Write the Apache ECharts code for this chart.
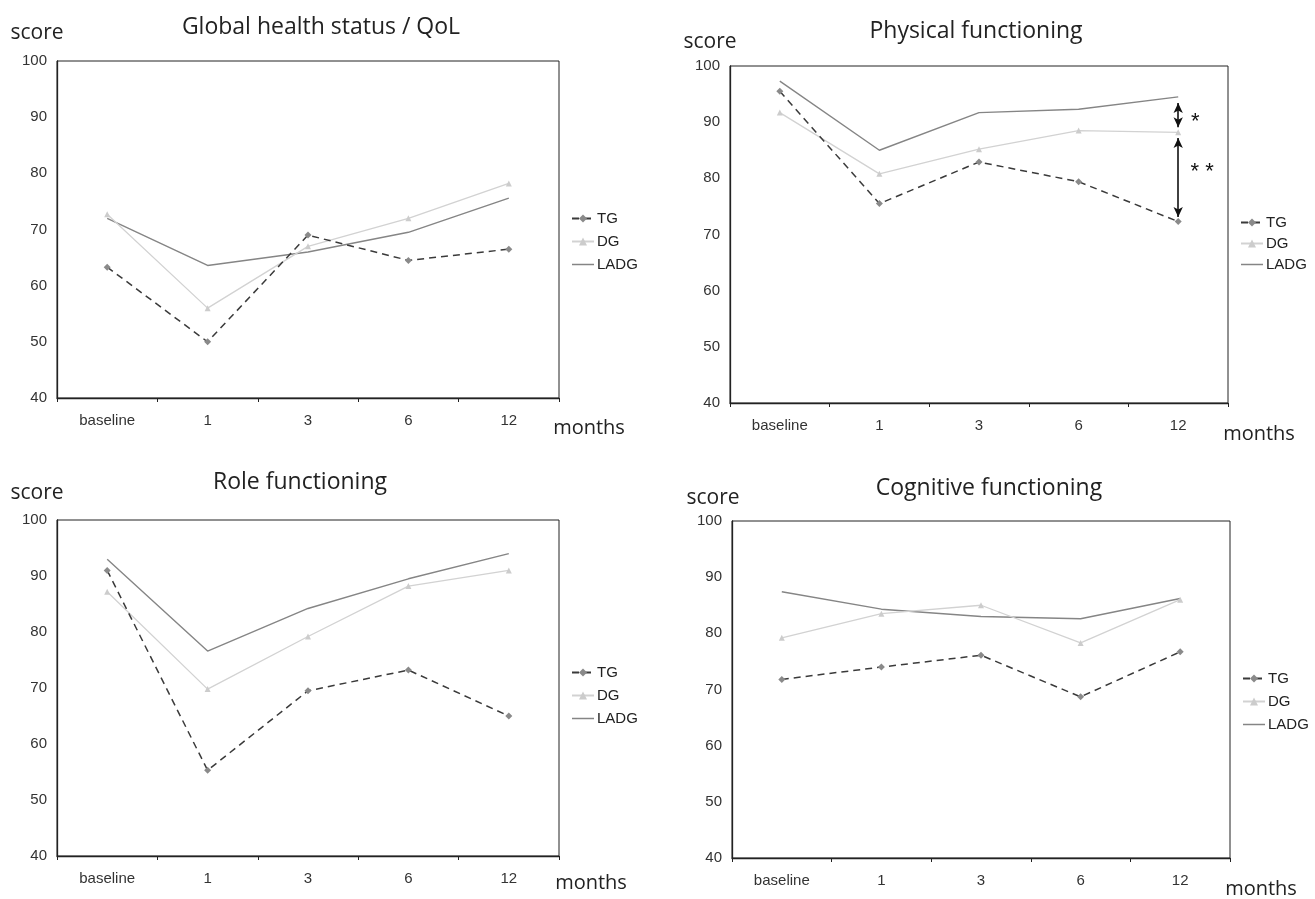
<!DOCTYPE html>
<html>
<head>
<meta charset="utf-8">
<script src="https://cdn.jsdelivr.net/npm/echarts@6/dist/echarts.min.js"></script>
<style>
html,body{margin:0;padding:0;background:#fff;}
#c{width:1315px;height:899px;}
</style>
</head>
<body>
<div id="c"></div>
<script>
// ---- data ----
var categories = ['baseline', '1', '3', '6', '12'];
var groupNames = ['TG', 'DG', 'LADG'];
var panelTitles = ['Global health status / QoL', 'Physical functioning', 'Role functioning', 'Cognitive functioning'];
var yTicks = [40, 50, 60, 70, 80, 90, 100];

var qolTG   = [63.3, 50.0, 69.0, 64.5, 66.5];
var qolDG   = [72.7, 56.0, 67.0, 72.0, 78.2];
var qolLADG = [72.0, 63.6, 66.0, 69.5, 75.6];

var physTG   = [95.5, 75.5, 82.9, 79.4, 72.3];
var physDG   = [91.7, 80.8, 85.2, 88.5, 88.2];
var physLADG = [97.3, 85.0, 91.7, 92.3, 94.5];

var roleTG   = [91.0, 55.3, 69.5, 73.2, 65.0];
var roleDG   = [87.2, 69.8, 79.2, 88.2, 91.0];
var roleLADG = [93.0, 76.6, 84.2, 89.5, 94.0];

var cogTG   = [71.8, 74.0, 76.1, 68.7, 76.7];
var cogDG   = [79.2, 83.5, 85.0, 78.3, 86.0];
var cogLADG = [87.4, 84.3, 83.0, 82.6, 86.2];

// significance arrows in Physical functioning at 12 months: [from, to]
var sigArrows = [[93.4, 89.1], [87.2, 73.1]];
var sigLabels = [['*', 90.7], ['* *', 81.8]];

// ---- layout ----
var panelData = [
  [qolTG, qolDG, qolLADG],
  [physTG, physDG, physLADG],
  [roleTG, roleDG, roleLADG],
  [cogTG, cogDG, cogLADG]
];
var grids = [
  {left: 57,  top: 61,  width: 502, height: 337},
  {left: 730, top: 66,  width: 498, height: 337},
  {left: 57,  top: 520, width: 502, height: 336},
  {left: 732, top: 521, width: 498, height: 337}
];
var titlePos  = [[321, 27], [976, 31], [300, 482], [989, 488]];
var scorePos  = [[37, 33], [710, 42], [37, 493], [713, 498]];
var monthsPos = [[589, 428], [1259, 434], [591, 883], [1261, 889]];
var legendPos = [[571, 211, 8], [1240, 215, 6], [571, 665, 8], [1242, 671, 8]];

var styles = [
  {color: '#3a3a3a', type: [7, 5], width: 1.5, symbol: 'diamond', symbolSize: 7, symColor: '#8a8a8a'},
  {color: '#d2d2d2', type: 'solid', width: 1.3, symbol: 'triangle', symbolSize: 6, symColor: '#cccccc'},
  {color: '#858585', type: 'solid', width: 1.4, symbol: 'none', symbolSize: 0, symColor: '#858585'}
];

var fontFam = '"Liberation Sans", Arial, sans-serif';
var option = {
  animation: false,
  backgroundColor: '#fff',
  grid: [], xAxis: [], yAxis: [], series: [], legend: [], graphic: []
};

for (var p = 0; p < 4; p++) {
  var g = grids[p];
  option.grid.push({left: g.left, top: g.top, width: g.width, height: g.height,
    show: true, borderColor: '#222', borderWidth: 1, backgroundColor: '#fff', containLabel: false});
  option.xAxis.push({
    type: 'category', gridIndex: p, data: categories, boundaryGap: true,
    axisLine: {lineStyle: {color: '#222', width: 1.3}},
    axisTick: {show: true, length: 4, inside: false, lineStyle: {color: '#222'}},
    axisLabel: {color: '#333', fontSize: 15, fontFamily: fontFam, margin: 15},
    splitLine: {show: false}
  });
  option.yAxis.push({
    type: 'value', gridIndex: p, min: yTicks[0], max: yTicks[yTicks.length - 1], interval: 10,
    axisLine: {show: true, lineStyle: {color: '#222', width: 1.3}},
    axisTick: {show: false},
    axisLabel: {color: '#333', fontSize: 15, fontFamily: fontFam, margin: 10},
    splitLine: {show: false}
  });
  for (var s = 0; s < 3; s++) {
    var st = styles[s];
    option.series.push({
      name: groupNames[s], type: 'line', xAxisIndex: p, yAxisIndex: p,
      data: panelData[p][s],
      symbol: st.symbol, symbolSize: st.symbolSize, showSymbol: st.symbol !== 'none',
      lineStyle: {color: st.color, type: st.type, width: st.width},
      itemStyle: {color: st.symColor},
      z: 3 - s
    });
  }
  var lp = legendPos[p];
  option.legend.push({
    data: [
      {name: 'TG'},
      {name: 'DG'},
      {name: 'LADG', icon: 'path://M0,0 L22,0 L22,1.5 L0,1.5 Z', itemStyle: {color: '#858585'}}
    ],
    orient: 'vertical', left: lp[0], top: lp[1], itemGap: lp[2],
    itemWidth: 22, itemHeight: 10, padding: 0,
    textStyle: {color: '#222', fontSize: 15, fontFamily: fontFam, padding: [0, 0, 0, -2]},
    selectedMode: false
  });
  option.graphic.push({type: 'text', x: titlePos[p][0], y: titlePos[p][1],
    style: {text: panelTitles[p], fill: '#222', font: '23px "Open Sans", sans-serif', textAlign: 'center', textVerticalAlign: 'middle'}});
  option.graphic.push({type: 'text', x: scorePos[p][0], y: scorePos[p][1],
    style: {text: 'score', fill: '#222', font: '21px "Open Sans", sans-serif', textAlign: 'center', textVerticalAlign: 'middle'}});
  option.graphic.push({type: 'text', x: monthsPos[p][0], y: monthsPos[p][1],
    style: {text: 'months', fill: '#222', font: '20px "Open Sans", sans-serif', textAlign: 'center', textVerticalAlign: 'middle'}});
}

// significance annotations on the Physical functioning panel
option.series.push({
  type: 'line', xAxisIndex: 1, yAxisIndex: 1, data: [], silent: true,
  markLine: {
    silent: true, symbol: ['arrow', 'arrow'], symbolSize: [7, 10],
    lineStyle: {color: '#111', type: 'solid', width: 1.6},
    label: {show: false},
    data: sigArrows.map(function (a) {
      return [{coord: [categories[4], a[0]]}, {coord: [categories[4], a[1]]}];
    })
  },
  markPoint: {
    silent: true, symbol: 'circle', symbolSize: 1, itemStyle: {color: 'rgba(0,0,0,0)'},
    data: sigLabels.map(function (l, i) {
      return {coord: [categories[4], l[1]], value: l[0],
        label: {show: true, formatter: l[0], color: '#111', fontSize: 22, fontFamily: fontFam,
          offset: [i === 0 ? 17 : 24, 4]}};
    })
  }
});

var chart = echarts.init(document.getElementById('c'), null, {renderer: 'canvas'});
chart.setOption(option);
</script>
</body>
</html>
